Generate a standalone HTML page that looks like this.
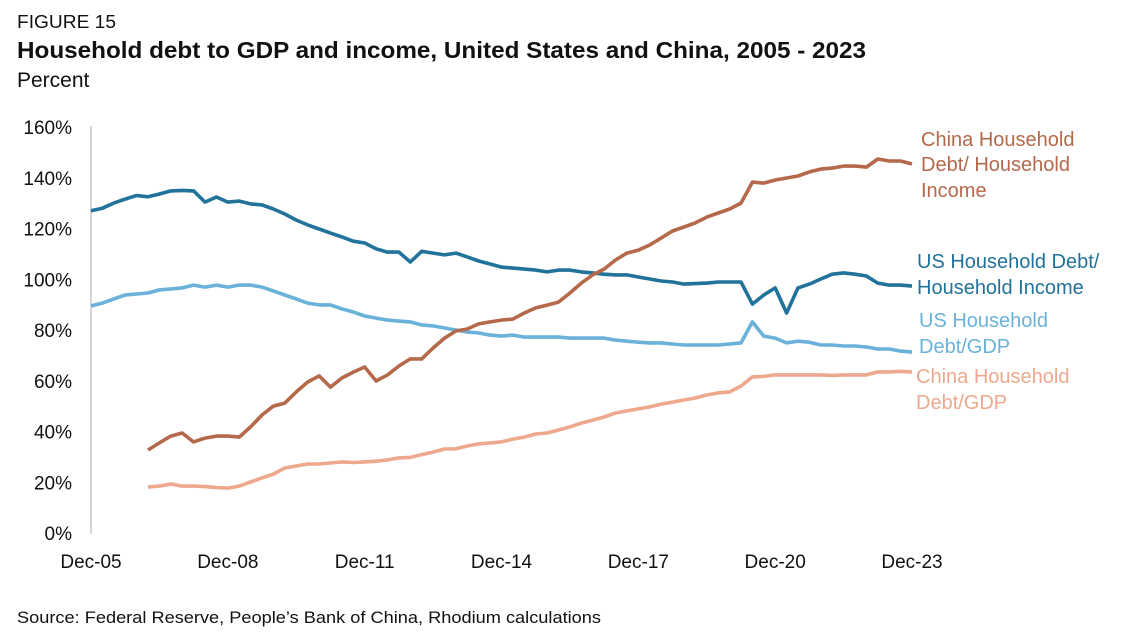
<!DOCTYPE html>
<html><head><meta charset="utf-8"><style>
html,body{margin:0;padding:0;background:#fff;}
svg{display:block;font-family:"Liberation Sans",sans-serif;}
</style></head><body>
<svg id="chart" width="1126" height="643" viewBox="0 0 1126 643" xmlns="http://www.w3.org/2000/svg">
<text x="17" y="28" font-size="18" fill="#111" textLength="99" lengthAdjust="spacingAndGlyphs">FIGURE 15</text>
<text x="17" y="58" font-size="23" font-weight="bold" fill="#111" textLength="849" lengthAdjust="spacingAndGlyphs">Household debt to GDP and income, United States and China, 2005 - 2023</text>
<text x="17" y="87" font-size="21" fill="#111">Percent</text>
<line x1="91" y1="126" x2="91" y2="534" stroke="#c8c8c8" stroke-width="1.5"/>
<g id="yticks"></g><g id="xticks"></g><g id="series"></g>
<g font-size="20">
<text fill="#b5694a" x="921"><tspan x="921" y="146">China Household</tspan><tspan x="921" y="171">Debt/ Household</tspan><tspan x="921" y="197">Income</tspan></text>
<text fill="#21739b" x="917"><tspan x="917" y="268">US Household Debt/</tspan><tspan x="917" y="294">Household Income</tspan></text>
<text fill="#6ab2d9" x="919"><tspan x="919" y="327">US Household</tspan><tspan x="919" y="353">Debt/GDP</tspan></text>
<text fill="#eda88e" x="916"><tspan x="916" y="383">China Household</tspan><tspan x="916" y="409">Debt/GDP</tspan></text>
</g>
<text x="17" y="623" font-size="17" fill="#111" textLength="584" lengthAdjust="spacingAndGlyphs">Source: Federal Reserve, People’s Bank of China, Rhodium calculations</text>
</svg>
<script>
const yTicks=[0,20,40,60,80,100,120,140,160];
const xTickLabels=["Dec-05","Dec-08","Dec-11","Dec-14","Dec-17","Dec-20","Dec-23"];
const xTickQuarters=[0,12,24,36,48,60,72];
const usIncome=[127,128,130,131.6,133,132.5,133.6,134.8,135,134.8,130.4,132.4,130.4,130.8,129.7,129.3,127.7,125.7,123.3,121.4,119.8,118.2,116.7,115,114.3,112,110.7,110.7,106.8,111,110.3,109.6,110.3,108.8,107.2,106,104.8,104.4,104,103.6,102.9,103.6,103.6,102.9,102.5,102,101.7,101.7,100.9,100.1,99.3,98.9,98.1,98.3,98.5,98.9,98.9,98.9,90.2,93.8,96.6,86.7,96.6,98.1,100.1,102,102.5,102,101.3,98.5,97.7,97.7,97.3];
const usGdp=[89.5,90.6,92.2,93.8,94.2,94.6,95.8,96.2,96.6,97.7,96.9,97.7,96.9,97.7,97.7,96.9,95.4,93.8,92.2,90.6,89.9,89.9,88.3,87.1,85.5,84.7,83.9,83.5,83.2,82,81.6,80.8,80,79.2,78.8,78,77.6,78,77.2,77.2,77.2,77.2,76.8,76.8,76.8,76.8,76,75.6,75.2,74.9,74.9,74.5,74.1,74.1,74.1,74.1,74.5,74.9,83.2,77.6,76.8,74.9,75.6,75.2,74.1,74.1,73.7,73.7,73.3,72.5,72.5,71.7,71.3];
const chinaStart=5;
const chinaIncome=[32.7,35.5,38.2,39.4,35.9,37.4,38.2,38.2,37.8,41.8,46.5,50,51.2,55.6,59.5,61.9,57.5,61.1,63.4,65.4,59.9,62.3,65.8,68.6,68.6,72.9,76.8,79.6,80.4,82.4,83.2,83.9,84.3,86.7,88.7,89.8,91,94.6,98.5,101.7,104,107.6,110.3,111.5,113.5,116.2,119,120.6,122.2,124.5,126.1,127.7,130,138.3,137.9,139.1,139.9,140.7,142.3,143.4,143.8,144.6,144.6,144.2,147.4,146.6,146.6,145.4];
const chinaGdp=[18.1,18.5,19.3,18.5,18.5,18.3,17.9,17.7,18.5,20.1,21.7,23.2,25.6,26.4,27.2,27.2,27.6,28,27.8,28,28.3,28.8,29.6,29.8,30.9,31.9,33.1,33.2,34.3,35.1,35.5,35.9,37,37.8,39,39.4,40.6,41.8,43.3,44.5,45.7,47.3,48.1,48.9,49.7,50.8,51.6,52.4,53.2,54.4,55.2,55.6,57.9,61.5,61.7,62.3,62.3,62.3,62.3,62.3,62.1,62.3,62.3,62.3,63.5,63.5,63.7,63.5];
const NS="http://www.w3.org/2000/svg";
const X0=91,X1=912,Y0=533,Y1=127;
function xs(q){return X0+(X1-X0)*q/72;}
function ys(v){return Y0-(Y0-Y1)*v/160;}
const yg=document.getElementById('yticks');
yTicks.forEach(v=>{const t=document.createElementNS(NS,'text');


t.setAttribute('x',72);t.setAttribute('y',ys(v)+7);t.setAttribute('text-anchor','end');t.setAttribute('font-size','19');t.setAttribute('fill','#111');t.textContent=v+'%';yg.appendChild(t);});
const xg=document.getElementById('xticks');
xTickLabels.forEach((l,i)=>{const t=document.createElementNS(NS,'text');


t.setAttribute('x',xs(xTickQuarters[i]));t.setAttribute('y',568);t.setAttribute('text-anchor','middle');t.setAttribute('font-size','19');t.setAttribute('fill','#111');t.textContent=l;xg.appendChild(t);});
const sg=document.getElementById('series');
function line(arr,start,color,name){const p=document.createElementNS(NS,'polyline');


p.setAttribute('points',arr.map((v,i)=>xs(start+i).toFixed(1)+','+ys(v).toFixed(1)).join(' '));
p.setAttribute('fill','none');p.setAttribute('stroke',color);p.setAttribute('stroke-width','3.6');p.setAttribute('stroke-linejoin','round');sg.appendChild(p);}
line(chinaGdp,chinaStart,'#eda88e','china-gdp-line');
line(usGdp,0,'#6ab2d9','us-gdp-line');
line(usIncome,0,'#21739b','us-income-line');
line(chinaIncome,chinaStart,'#b5694a','china-income-line');
</script>
</body></html>
